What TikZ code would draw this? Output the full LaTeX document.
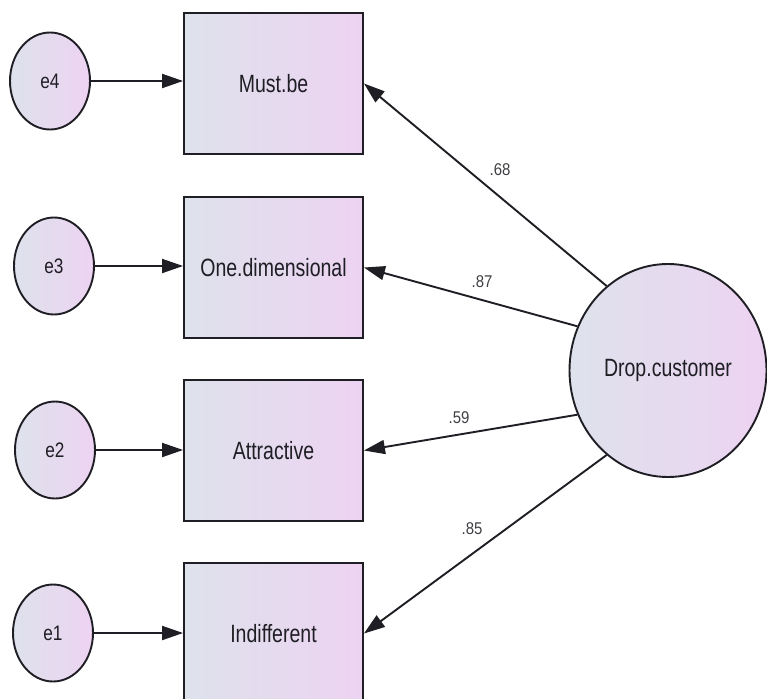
\documentclass[tikz,border=0pt]{standalone}
\usepackage{fontspec}
\setmainfont{Liberation Sans}
\usetikzlibrary{shapes.geometric,arrows.meta}
\definecolor{shadeL}{RGB}{222,226,236}
\definecolor{shadeR}{RGB}{237,211,242}
\definecolor{ink}{RGB}{30,30,36}
\newcommand\sqz[2]{\scalebox{#1}[1]{#2}}
\tikzset{
  obsbox/.style={draw=ink, line width=1.9pt, minimum width=179pt, minimum height=141pt, inner sep=0pt,
    left color=shadeL, right color=shadeR, text=ink, font=\fontsize{25}{28}\selectfont},
  errell/.style={ellipse, draw=ink, line width=1.9pt, minimum width=80pt, minimum height=97pt, inner sep=0pt,
    left color=shadeL, right color=shadeR, text=ink, font=\fontsize{21}{24}\selectfont},
  latent/.style={ellipse, draw=ink, line width=1.9pt, minimum width=197pt, minimum height=213pt, inner sep=0pt,
    shading=axis, shading angle=135, left color=shadeL, right color=shadeR, text=ink, font=\fontsize{25}{28}\selectfont},
  conn/.style={line width=1.9pt, draw=ink, -{Triangle[length=21pt, width=14pt]}},
  wlabel/.style={text=ink!85, font=\fontsize{17}{19}\selectfont, inner sep=0pt},
}
\begin{document}
\begin{tikzpicture}[x=1pt,y=-1pt]
\useasboundingbox (0,0) rectangle (767,698);
\clip (0,0) rectangle (767,698);
\fill[white] (0,0) rectangle (767,698);
% observed boxes
\node[obsbox] (mb) at (273.5,83.5) {\sqz{0.78}{Must.be}};
\node[obsbox] (od) at (273.5,267.5) {\sqz{0.78}{One.dimensional}};
\node[obsbox] (at) at (273.5,450.5) {\sqz{0.78}{Attractive}};
\node[obsbox] (in) at (273.5,633.5) {\sqz{0.78}{Indifferent}};
% error terms
\node[errell] (e4) at (50,81) {\sqz{0.82}{e4}};
\node[errell] (e3) at (54,266) {\sqz{0.82}{e3}};
\node[errell] (e2) at (55,450) {\sqz{0.82}{e2}};
\node[errell] (e1) at (53,633) {\sqz{0.82}{e1}};
% latent
\node[latent] (dc) at (668,370.5) {\sqz{0.78}{Drop.customer}};
% error arrows
\draw[conn] (e4.east) -- (e4.east -| mb.west);
\draw[conn] (e3.east) -- (e3.east -| od.west);
\draw[conn] (e2.east) -- (e2.east -| at.west);
\draw[conn] (e1.east) -- (e1.east -| in.west);
% loadings
\draw[conn] (dc.126) -- (mb.east);
\draw[conn] (dc.154.4) -- (od.east);
\draw[conn] (dc.206) -- (at.east);
\draw[conn] (dc.234.2) -- (in.east);
% labels
\node[wlabel] (l68) at (500,170) {\sqz{0.88}{.68}};
\node[wlabel] (l87) at (482,282) {\sqz{0.88}{.87}};
\node[wlabel] (l59) at (459,418) {\sqz{0.88}{.59}};
\node[wlabel] (l85) at (472,529) {\sqz{0.88}{.85}};
\end{tikzpicture}
\end{document}
